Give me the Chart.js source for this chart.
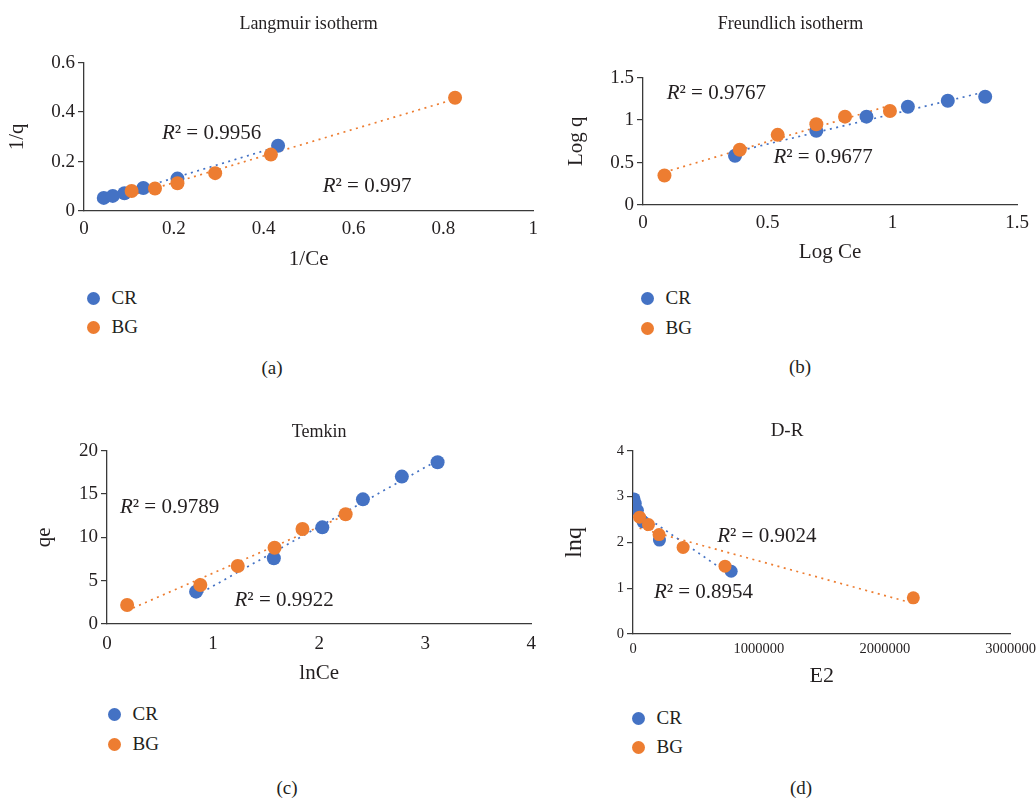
<!DOCTYPE html>
<html>
<head>
<meta charset="utf-8">
<script src="https://cdn.jsdelivr.net/npm/chart.js@4.4.1/dist/chart.umd.min.js"></script>
<style>
  body { margin: 0; background: #fff; width: 1036px; height: 799px; position: relative; overflow: hidden;
         font-family: "Liberation Serif", serif; color: #231f20; }
  canvas { position: absolute; }
  .leg { position: absolute; font-size: 19px; line-height: 20px; white-space: nowrap; }
  .leg .dot { display: inline-block; width: 13px; height: 13px; border-radius: 50%; vertical-align: -1px; margin-right: 12px; }
  .cap { position: absolute; font-size: 19px; line-height: 20px; transform: translate(-50%, -50%); }
</style>
</head>
<body>
<script>
// Langmuir isotherm (a)
const langXCR = [0.044, 0.064, 0.09, 0.132, 0.208, 0.432];
const langYCR = [0.053, 0.061, 0.072, 0.093, 0.131, 0.264];
const langXBG = [0.106, 0.158, 0.208, 0.292, 0.416, 0.826];
const langYBG = [0.081, 0.091, 0.112, 0.153, 0.228, 0.458];
const langXTicks = [0, 0.2, 0.4, 0.6, 0.8, 1];
const langYTicks = [0, 0.2, 0.4, 0.6];

// Freundlich isotherm (b)
const freuXCR = [0.369, 0.695, 0.896, 1.062, 1.222, 1.372];
const freuYCR = [0.58, 0.873, 1.04, 1.157, 1.227, 1.274];
const freuXBG = [0.086, 0.388, 0.54, 0.695, 0.81, 0.99];
const freuYBG = [0.347, 0.65, 0.826, 0.95, 1.04, 1.106];
const freuXTicks = [0, 0.5, 1, 1.5];
const freuYTicks = [0, 0.5, 1, 1.5];

// Temkin (c)
const temkXCR = [0.84, 1.573, 2.03, 2.413, 2.78, 3.117];
const temkYCR = [3.73, 7.58, 11.15, 14.38, 17.0, 18.65];
const temkXBG = [0.19, 0.88, 1.233, 1.58, 1.843, 2.25];
const temkYBG = [2.19, 4.5, 6.69, 8.8, 10.96, 12.65];
const temkXTicks = [0, 1, 2, 3, 4];
const temkYTicks = [0, 5, 10, 15, 20];

// D-R (d)
const drXCR = [8000, 18000, 35000, 80000, 210000, 780000];
const drYCR = [2.95, 2.85, 2.7, 2.45, 2.05, 1.37];
const drXBG = [52000, 123000, 207000, 398000, 731000, 2227000];
const drYBG = [2.55, 2.39, 2.17, 1.89, 1.48, 0.79];
const drXTicks = [0, 1000000, 2000000, 3000000];
const drYTicks = [0, 1, 2, 3, 4];

const seriesNames = ['CR', 'BG'];
const blue = '#4472C4';
const orange = '#ED7D31';
const ink = '#231f20';
const axisCol = '#3a3a3a';
const fam = '"Liberation Serif", serif';

function pts(xs, ys) {
  return xs.map((x, i) => ({ x: x, y: ys[i] }));
}

// linear least-squares trendline over the series' x range, like the spreadsheet trendline
function trend(xs, ys) {
  const n = xs.length;
  const mx = xs.reduce((a, b) => a + b, 0) / n;
  const my = ys.reduce((a, b) => a + b, 0) / n;
  let sxy = 0, sxx = 0;
  for (let i = 0; i < n; i++) {
    sxy += (xs[i] - mx) * (ys[i] - my);
    sxx += (xs[i] - mx) * (xs[i] - mx);
  }
  const b = sxy / sxx, a = my - b * mx;
  const lo = Math.min(...xs), hi = Math.max(...xs);
  return [{ x: lo, y: a + b * lo }, { x: hi, y: a + b * hi }];
}

// R² labels placed in data coordinates
const r2Plugin = {
  id: 'r2',
  afterDatasetsDraw(chart, args, opts) {
    const ctx = chart.ctx;
    const xs = chart.scales.x, ys = chart.scales.y;
    ctx.save();
    ctx.fillStyle = ink;
    ctx.textBaseline = 'middle';
    ctx.textAlign = 'left';
    opts.items.forEach(it => {
      const px = xs.getPixelForValue(it.x);
      const py = ys.getPixelForValue(it.y);
      const f = opts.size + 'px ' + fam;
      ctx.font = 'italic ' + f;
      const wR = ctx.measureText('R').width;
      const rest = '\u00b2 = ' + it.text;
      ctx.font = f;
      const wRest = ctx.measureText(rest).width;
      const sx = px - (wR + wRest) / 2;
      ctx.font = 'italic ' + f;
      ctx.fillText('R', sx, py);
      ctx.font = f;
      ctx.fillText(rest, sx + wR, py);
    });
    ctx.restore();
  }
};

function makePanel(p) {
  const canvas = document.createElement('canvas');
  canvas.width = p.w;
  canvas.height = p.h;
  canvas.style.left = p.left + 'px';
  canvas.style.top = p.top + 'px';
  document.body.appendChild(canvas);

  const dot = (color, data, order) => ({
    data: data, backgroundColor: color, borderColor: color, pointRadius: p.r,
    pointHoverRadius: p.r, pointBorderWidth: 0, showLine: false, order: order
  });
  const line = (color, data) => ({
    data: data, borderColor: color, borderWidth: 1.7, borderDash: [2, 4.5],
    pointRadius: 0, showLine: true, fill: false, order: 2
  });

  new Chart(canvas, {
    type: 'scatter',
    data: {
      datasets: [
        dot(orange, pts(p.bgX, p.bgY), 0),
        dot(blue, pts(p.crX, p.crY), 1),
        line(blue, trend(p.crX, p.crY)),
        line(orange, trend(p.bgX, p.bgY))
      ]
    },
    options: {
      responsive: false,
      animation: false,
      events: [],
      layout: { padding: { left: 0, right: p.padR, top: 0, bottom: 0 } },
      plugins: {
        legend: { display: false },
        tooltip: { enabled: false },
        title: {
          display: true, text: p.title, color: ink, fullSize: p.titleFull,
          font: { family: fam, size: p.titleSize, weight: 'normal' },
          padding: { top: p.titleTop, bottom: p.titleBottom }
        },
        r2: { size: p.r2Size, items: p.r2 }
      },
      scales: {
        x: {
          type: 'linear', min: p.xTicks[0], max: p.xTicks[p.xTicks.length - 1],
          afterBuildTicks: ax => { ax.ticks = p.xTicks.map(v => ({ value: v })); },
          afterFit: s => { s.height = p.xH; },
          grid: { display: true, drawOnChartArea: false, drawTicks: false },
          border: { display: true, color: axisCol, width: 1.3 },
          ticks: { color: ink, font: { family: fam, size: p.tick }, padding: p.xTickPad,
                   maxRotation: 0, autoSkip: false, callback: v => String(v) },
          title: { display: true, text: p.xTitle, color: ink, font: { family: fam, size: p.xTitleSize },
                   padding: { top: 0, bottom: p.xTitlePad } }
        },
        y: {
          type: 'linear', min: p.yTicks[0], max: p.yTicks[p.yTicks.length - 1],
          afterBuildTicks: ax => { ax.ticks = p.yTicks.map(v => ({ value: v })); },
          afterFit: s => { s.width = p.yW; },
          grid: { display: true, drawOnChartArea: false, drawTicks: true, tickLength: 6, color: axisCol, lineWidth: 1.2 },
          border: { display: true, color: axisCol, width: 1.3 },
          ticks: { color: ink, font: { family: fam, size: p.tick }, padding: 3, callback: v => String(v) },
          title: { display: true, text: p.yTitle, color: ink, font: { family: fam, size: p.yTitleSize },
                   padding: { top: p.yTitlePad, bottom: 0 } }
        }
      }
    },
    plugins: [r2Plugin]
  });

  [blue, orange].forEach((c, i) => {
    const d = document.createElement('div');
    d.className = 'leg';
    d.style.left = (p.legX - 6.5) + 'px';
    d.style.top = (p.legY[i] - 10) + 'px';
    d.innerHTML = '<span class="dot" style="background:' + c + '"></span>' + seriesNames[i];
    document.body.appendChild(d);
  });
  const cap = document.createElement('div');
  cap.className = 'cap';
  cap.style.left = p.capX + 'px';
  cap.style.top = p.capY + 'px';
  cap.textContent = p.cap;
  document.body.appendChild(cap);
}

makePanel({
  left: 0, top: 0, w: 545, h: 275, padR: 10, yW: 84, xH: 64,
  title: 'Langmuir isotherm', titleSize: 18, titleFull: false, titleTop: 13, titleBottom: 28,
  xTitle: '1/Ce', xTitleSize: 21, yTitle: '1/q', yTitleSize: 21, yTitlePad: 5, xTitlePad: 3, xTickPad: 7, tick: 19,
  crX: langXCR, crY: langYCR, bgX: langXBG, bgY: langYBG, xTicks: langXTicks, yTicks: langYTicks, r: 7,
  r2Size: 21, r2: [{ x: 0.284, y: 0.312, text: '0.9956' }, { x: 0.63, y: 0.1, text: '0.997' }],
  legX: 93, legY: [298, 327], cap: '(a)', capX: 272, capY: 368
});

makePanel({
  left: 560, top: 0, w: 476, h: 275, padR: 15, yW: 83, xH: 70,
  title: 'Freundlich isotherm', titleSize: 18, titleFull: true, titleTop: 13, titleBottom: 43,
  xTitle: 'Log Ce', xTitleSize: 21, yTitle: 'Log q', yTitleSize: 21, yTitlePad: 4, xTitlePad: 10, xTickPad: 7, tick: 19,
  crX: freuXCR, crY: freuYCR, bgX: freuXBG, bgY: freuYBG, xTicks: freuXTicks, yTicks: freuYTicks, r: 7,
  r2Size: 21, r2: [{ x: 0.294, y: 1.31, text: '0.9767' }, { x: 0.722, y: 0.56, text: '0.9677' }],
  legX: 647, legY: [298, 328], cap: '(b)', capX: 800, capY: 367
});

makePanel({
  left: 0, top: 400, w: 545, h: 290, padR: 10, yW: 107, xH: 66,
  title: 'Temkin', titleSize: 18, titleFull: false, titleTop: 21, titleBottom: 8,
  xTitle: 'lnCe', xTitleSize: 21, yTitle: 'qe', yTitleSize: 21, yTitlePad: 32, xTitlePad: 4, xTickPad: 9, tick: 19,
  crX: temkXCR, crY: temkYCR, bgX: temkXBG, bgY: temkYBG, xTicks: temkXTicks, yTicks: temkYTicks, r: 7,
  r2Size: 21, r2: [{ x: 0.59, y: 13.4, text: '0.9789' }, { x: 1.67, y: 2.67, text: '0.9922' }],
  legX: 114, legY: [714, 744], cap: '(c)', capX: 287, capY: 788
});

makePanel({
  left: 560, top: 400, w: 482, h: 290, padR: 28, yW: 73, xH: 56,
  title: 'D-R', titleSize: 19, titleFull: true, titleTop: 20, titleBottom: 8,
  xTitle: 'E2', xTitleSize: 22, yTitle: 'lnq', yTitleSize: 24, yTitlePad: 0, xTitlePad: 1, xTickPad: 6, tick: 14.5,
  crX: drXCR, crY: drYCR, bgX: drXBG, bgY: drYBG, xTicks: drXTicks, yTicks: drYTicks, r: 6.5,
  r2Size: 21, r2: [{ x: 1063000, y: 2.12, text: '0.9024' }, { x: 560000, y: 0.9, text: '0.8954' }],
  legX: 638, legY: [718, 747], cap: '(d)', capX: 801, capY: 788
});
</script>
</body>
</html>
